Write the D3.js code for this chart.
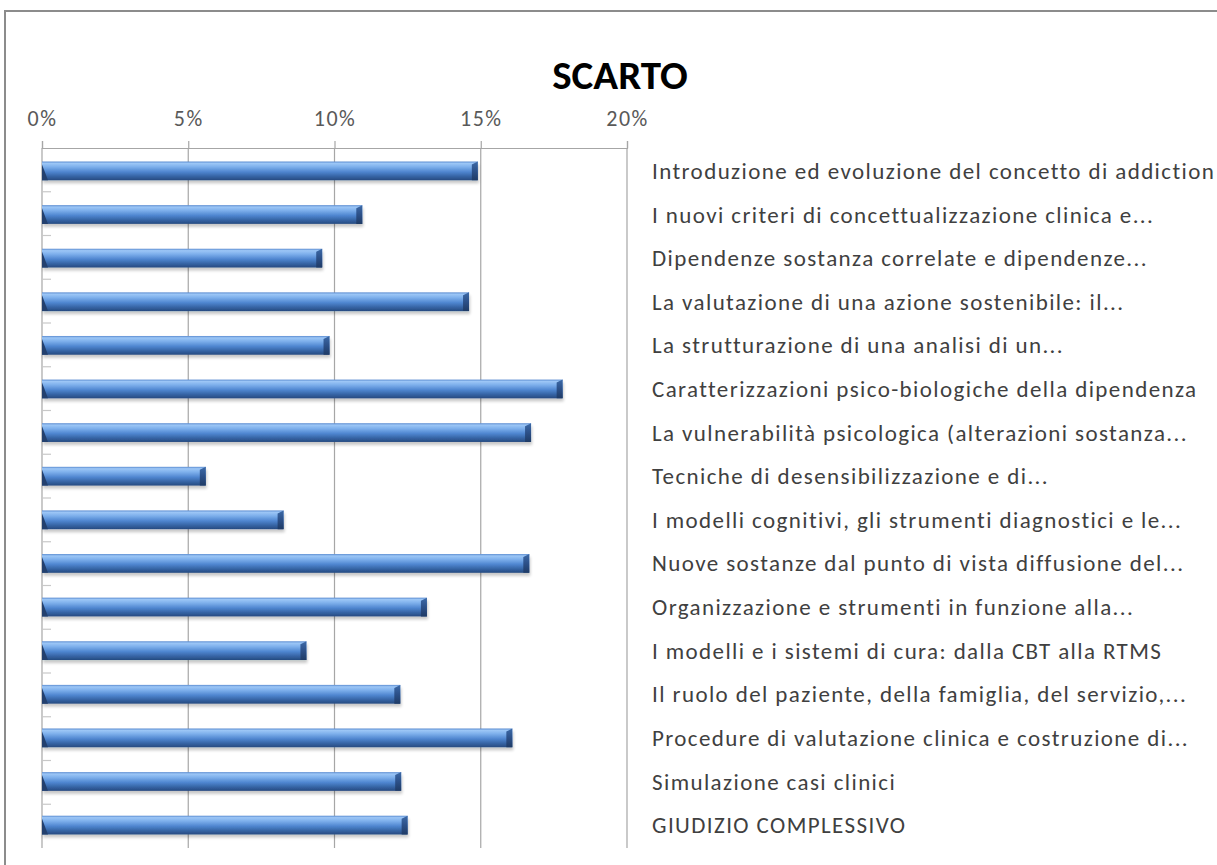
<!DOCTYPE html>
<html>
<head>
<meta charset="utf-8">
<script src="https://cdn.jsdelivr.net/npm/d3@7"></script>
<style>
  html, body { margin: 0; padding: 0; background: #fff; }
  svg { display: block; }
</style>
</head>
<body>
<svg id="chart" width="1217" height="865"></svg>
<script>
const title = "SCARTO";
const categories = [
  "Introduzione ed evoluzione del concetto di addiction",
  "I nuovi criteri di concettualizzazione clinica e...",
  "Dipendenze sostanza correlate e dipendenze...",
  "La valutazione di una azione sostenibile: il...",
  "La strutturazione di una analisi di un...",
  "Caratterizzazioni psico-biologiche della dipendenza",
  "La vulnerabilità psicologica (alterazioni sostanza...",
  "Tecniche di desensibilizzazione e di...",
  "I modelli cognitivi, gli strumenti diagnostici e le...",
  "Nuove sostanze dal punto di vista diffusione del...",
  "Organizzazione e strumenti in funzione alla...",
  "I modelli e i sistemi di cura: dalla CBT alla RTMS",
  "Il ruolo del paziente, della famiglia, del servizio,...",
  "Procedure di valutazione clinica e costruzione di...",
  "Simulazione casi clinici",
  "GIUDIZIO COMPLESSIVO"
];
const values = [0.149, 0.1095, 0.0958, 0.146, 0.0983, 0.178, 0.1672, 0.056, 0.0826, 0.1666, 0.1316, 0.0904, 0.1225, 0.1608, 0.1228, 0.125];
const tickValues = [0, 0.05, 0.10, 0.15, 0.20];

const svg = d3.select("#chart");
const FONT = "Carlito, Lato, 'Open Sans', sans-serif";

// frame
svg.append("path")
  .attr("d", "M5,865 L5,11 L1217,11")
  .attr("fill", "none").attr("stroke", "#8c8c8c").attr("stroke-width", 2);

const x = d3.scaleLinear().domain([0, 0.20]).range([42, 627]);
const y = d3.scaleBand().domain(categories).range([148, 848]).paddingInner(0.57).paddingOuter(0.31);

// gradient
const defs = svg.append("defs");
const g = defs.append("linearGradient").attr("id", "barGrad")
  .attr("x1", 0).attr("y1", 0).attr("x2", 0).attr("y2", 1);
[["0%", "#5a8bd0"], ["10%", "#9cc6f6"], ["28%", "#7eb0ec"], ["55%", "#4f86d0"], ["80%", "#3563a3"], ["100%", "#264a80"]]
  .forEach(([o, c]) => g.append("stop").attr("offset", o).attr("stop-color", c));
const gc = defs.append("linearGradient").attr("id", "capGrad")
  .attr("x1", 0).attr("y1", 0).attr("x2", 0).attr("y2", 1);
[["0%", "#3d6aa8"], ["50%", "#2c5088"], ["100%", "#1f3b66"]]
  .forEach(([o, c]) => gc.append("stop").attr("offset", o).attr("stop-color", c));
const sh = defs.append("filter").attr("id", "shadow").attr("x", "-5%").attr("y", "-50%").attr("width", "110%").attr("height", "250%");
sh.append("feGaussianBlur").attr("in", "SourceAlpha").attr("stdDeviation", 1.8);
sh.append("feOffset").attr("dx", 1).attr("dy", 2.5).attr("result", "b");
sh.append("feComponentTransfer").append("feFuncA").attr("type", "linear").attr("slope", 0.22);
const m = sh.append("feMerge");
m.append("feMergeNode");
m.append("feMergeNode").attr("in", "SourceGraphic");

// gridlines
svg.append("g").selectAll("line").data(tickValues).join("line")
  .attr("x1", d => x(d)).attr("x2", d => x(d))
  .attr("y1", 148).attr("y2", 848)
  .attr("stroke", "#a6a6a6").attr("stroke-width", 1.2);

// top axis
const axis = d3.axisTop(x).tickValues(tickValues).tickFormat(d3.format(".0%")).tickSize(7).tickPadding(15);
const ax = svg.append("g").attr("transform", "translate(0,148)").call(axis);
ax.select(".domain").attr("stroke", "#a6a6a6").attr("stroke-width", 1.2);
ax.selectAll(".tick line").attr("stroke", "#a6a6a6").attr("stroke-width", 1.2);
ax.selectAll(".tick text").attr("font-family", FONT).attr("font-size", 22).attr("letter-spacing", 1.5).attr("fill", "#595959");

// left minor ticks at band boundaries
const bounds = d3.range(1, categories.length).map(i => 148 + (700 / categories.length) * i);
svg.append("g").selectAll("line").data(bounds).join("line")
  .attr("x1", 42).attr("x2", 51).attr("y1", d => d).attr("y2", d => d)
  .attr("stroke", "#c8c8c8").attr("stroke-width", 1.2);

// bars
const bars = svg.append("g").selectAll("g").data(categories).join("g");
bars.append("rect")
  .attr("x", x(0)).attr("y", d => y(d))
  .attr("width", (d, i) => x(values[i]) - x(0))
  .attr("height", y.bandwidth())
  .attr("fill", "url(#barGrad)")
  .attr("filter", "url(#shadow)");
bars.append("path")
  .attr("d", (d, i) => {
    const xe = x(values[i]), yt = y(d), h = y.bandwidth();
    return `M${xe - 6},${yt + 3} L${xe},${yt} L${xe},${yt + h} L${xe - 6},${yt + h} Z`;
  })
  .attr("fill", "url(#capGrad)");
bars.append("path")
  .attr("d", d => {
    const xs = x(0), yt = y(d), h = y.bandwidth();
    return `M${xs},${yt + 3} L${xs + 6},${yt + h} L${xs},${yt + h} Z`;
  })
  .attr("fill", "#23406e");

// labels
svg.append("g").selectAll("text").data(categories).join("text")
  .attr("x", 652).attr("y", d => y(d) + y.bandwidth() / 2)
  .attr("dy", "0.35em")
  .attr("font-family", FONT).attr("font-size", 23).attr("letter-spacing", 1.4).attr("fill", "#404040")
  .text(d => d);

// title
svg.append("text").attr("x", 620).attr("y", 89)
  .attr("text-anchor", "middle")
  .attr("font-family", FONT).attr("font-weight", "bold").attr("font-size", 41).attr("fill", "#000")
  .text(title);
</script>
</body>
</html>
